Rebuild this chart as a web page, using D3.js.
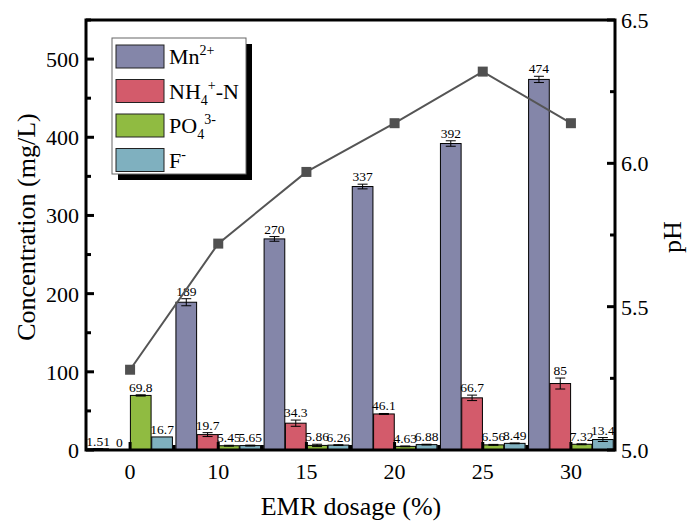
<!DOCTYPE html>
<html>
<head>
<meta charset="utf-8">
<script src="https://cdn.jsdelivr.net/npm/d3@7"></script>
<style>
  body { margin: 0; background: #fff; }
  svg { font-family: "Liberation Serif", "Times New Roman", serif; }
</style>
</head>
<body>
<div id="chart"></div>
<script>
// data
const dosages = ["0", "10", "15", "20", "25", "30"];
const series = ["Mn", "NH4", "PO4", "F"];
const mnVals = [1.51, 189, 270, 337, 392, 474];
const mnErr = [0.3, 4.5, 3, 3, 3.5, 4];
const nh4Vals = [0, 19.7, 34.3, 46.1, 66.7, 85];
const nh4Err = [0, 2.5, 4, 0.6, 3.5, 7];
const po4Vals = [69.8, 5.45, 5.86, 4.63, 6.56, 7.32];
const po4Err = [0.8, 0.6, 1.5, 0.5, 0.6, 0.6];
const fVals = [16.7, 5.65, 6.26, 6.88, 8.49, 13.4];
const fErr = [0, 0.6, 0.5, 0.5, 0.5, 2.5];
const phVals = [5.28, 5.72, 5.97, 6.14, 6.32, 6.14];
const leftTicks = [0, 100, 200, 300, 400, 500];
const rightTicks = [5.0, 5.5, 6.0, 6.5];

const colors = { Mn: "#8486a9", NH4: "#d35b6b", PO4: "#90bb41", F: "#7fb0bf" };
const valsBy = { Mn: mnVals, NH4: nh4Vals, PO4: po4Vals, F: fVals };
const errBy = { Mn: mnErr, NH4: nh4Err, PO4: po4Err, F: fErr };

const W = 688, H = 521;
const L = 86, R = 615, T = 20, B = 450;

const svg = d3.select("#chart").append("svg")
  .attr("width", W).attr("height", H);

const x0 = d3.scaleBand().domain(dosages).range([L, R])
  .paddingInner(0.04).paddingOuter(0.02);
const x1 = d3.scaleBand().domain(series).range([0, x0.bandwidth()]).paddingInner(0.03);
const y = d3.scaleLinear().domain([0, 550]).range([B, T]);
const yR = d3.scaleLinear().domain([5.0, 6.5]).range([B, T]);

// bars
let rows = [];
dosages.forEach((d, i) => {
  series.forEach(s => rows.push({ d: d, s: s, v: valsBy[s][i], e: errBy[s][i] }));
});

const g = svg.append("g");
g.selectAll("rect.bar").data(rows).enter().append("rect")
  .attr("class", "bar")
  .attr("x", r => x0(r.d) + x1(r.s))
  .attr("width", x1.bandwidth())
  .attr("y", r => y(r.v))
  .attr("height", r => B - y(r.v))
  .attr("fill", r => colors[r.s])
  .attr("stroke", "#000").attr("stroke-width", 1);

// error bars
const eb = g.selectAll("g.err").data(rows.filter(r => r.e > 0)).enter().append("g");
eb.append("line")
  .attr("x1", r => x0(r.d) + x1(r.s) + x1.bandwidth() / 2)
  .attr("x2", r => x0(r.d) + x1(r.s) + x1.bandwidth() / 2)
  .attr("y1", r => y(r.v + r.e)).attr("y2", r => y(r.v - r.e))
  .attr("stroke", "#000");
[1, -1].forEach(k => {
  eb.append("line")
    .attr("x1", r => x0(r.d) + x1(r.s) + x1.bandwidth() / 2 - 5)
    .attr("x2", r => x0(r.d) + x1(r.s) + x1.bandwidth() / 2 + 5)
    .attr("y1", r => y(r.v + k * r.e)).attr("y2", r => y(r.v + k * r.e))
    .attr("stroke", "#000");
});

// value labels
g.selectAll("text.val").data(rows).enter().append("text")
  .attr("x", r => x0(r.d) + x1(r.s) + x1.bandwidth() / 2)
  .attr("y", r => y(r.v + r.e) - 3)
  .attr("text-anchor", "middle")
  .attr("font-size", 13.5)
  .text(r => r.v);

// pH line
const cx = d => x0(d) + x0.bandwidth() / 2;
const phData = dosages.map((d, i) => ({ d: d, v: phVals[i] }));
svg.append("path").datum(phData)
  .attr("fill", "none").attr("stroke", "#555").attr("stroke-width", 2)
  .attr("d", d3.line().x(p => cx(p.d)).y(p => yR(p.v)));
svg.selectAll("rect.ph").data(phData).enter().append("rect")
  .attr("x", p => cx(p.d) - 5).attr("y", p => yR(p.v) - 5)
  .attr("width", 10).attr("height", 10)
  .attr("fill", "#505050");

// frame
svg.append("rect").attr("x", L).attr("y", T)
  .attr("width", R - L).attr("height", B - T)
  .attr("fill", "none").attr("stroke", "#000").attr("stroke-width", 3);

// left axis
const ax = svg.append("g").attr("font-size", 22);
d3.range(0, 551, 50).forEach(v => {
  const major = v % 100 === 0;
  ax.append("line").attr("x1", L).attr("x2", L + (major ? 8 : 5))
    .attr("y1", y(v)).attr("y2", y(v)).attr("stroke", "#000").attr("stroke-width", 3);
});
ax.selectAll("text.lt").data(leftTicks).enter().append("text")
  .attr("x", L - 7).attr("y", v => y(v) + 8)
  .attr("text-anchor", "end").text(v => v);

// right axis
d3.range(0, 7).map(i => 5.0 + i * 0.25).forEach(v => {
  const major = Math.abs(v * 2 - Math.round(v * 2)) < 1e-6;
  ax.append("line").attr("x1", R).attr("x2", R - (major ? 8 : 5))
    .attr("y1", yR(v)).attr("y2", yR(v)).attr("stroke", "#000").attr("stroke-width", 3);
});
ax.selectAll("text.rt").data(rightTicks).enter().append("text")
  .attr("x", R + 6).attr("y", v => yR(v) + 8)
  .text(v => v.toFixed(1));

// bottom axis
dosages.forEach((d, i) => {
  ax.append("line").attr("x1", cx(d)).attr("x2", cx(d))
    .attr("y1", B).attr("y2", B - 8).attr("stroke", "#000").attr("stroke-width", 3);
  if (i > 0) {
    const m = (cx(d) + cx(dosages[i - 1])) / 2;
    ax.append("line").attr("x1", m).attr("x2", m)
      .attr("y1", B).attr("y2", B - 5).attr("stroke", "#000").attr("stroke-width", 3);
  }
});
ax.selectAll("text.bt").data(dosages).enter().append("text")
  .attr("x", d => cx(d)).attr("y", B + 29)
  .attr("text-anchor", "middle").text(d => d);

// axis titles
svg.append("text").attr("transform", "translate(35,227) rotate(-90)")
  .attr("text-anchor", "middle").attr("font-size", 26).text("Concentration (mg/L)");
svg.append("text").attr("transform", "translate(681,237) rotate(-90)")
  .attr("text-anchor", "middle").attr("font-size", 26).text("pH");
svg.append("text").attr("x", 351).attr("y", 515)
  .attr("text-anchor", "middle").attr("font-size", 26).text("EMR dosage (%)");

// legend
const lg = svg.append("g");
lg.append("rect").attr("x", 118).attr("y", 44).attr("width", 134).attr("height", 136).attr("fill", "#000");
lg.append("rect").attr("x", 112).attr("y", 38).attr("width", 134).attr("height", 136)
  .attr("fill", "#fff").attr("stroke", "#666").attr("stroke-width", 1);
const labels = {
  Mn: [["Mn", 0], ["2+", -9]],
  NH4: [["NH", 0], ["4", 6], ["+", -9], ["-N", 0]],
  PO4: [["PO", 0], ["4", 6], ["3-", -9]],
  F: [["F", 0], ["-", -9]]
};
series.forEach((s, i) => {
  const yy = 45 + i * 34.5;
  lg.append("rect").attr("x", 116).attr("y", yy).attr("width", 48).attr("height", 23)
    .attr("fill", colors[s]).attr("stroke", "#222").attr("stroke-width", 1);
  const t = lg.append("text").attr("x", 169).attr("y", yy + 19).attr("font-size", 22);
  let prev = 0;
  labels[s].forEach(([txt, off]) => {
    t.append("tspan").attr("dy", off - prev)
      .attr("font-size", off === 0 ? 22 : 14).text(txt);
    prev = off;
  });
});
</script>
</body>
</html>
